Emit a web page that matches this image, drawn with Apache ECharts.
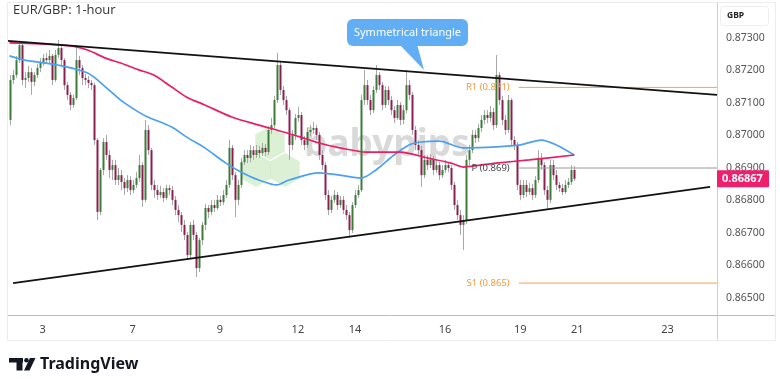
<!DOCTYPE html>
<html>
<head>
<meta charset="utf-8">
<script src="https://cdn.jsdelivr.net/npm/echarts@6/dist/echarts.min.js"></script>
<style>
html,body{margin:0;padding:0;background:#fff;}
#chart{width:780px;height:388px;}
</style>
</head>
<body>
<div id="chart"></div>
<script>
// ---- Data ----
const title = 'EUR/GBP: 1-hour';
const dayLabels = ['3','7','9','12','14','16','19','21','23'];
const dayIndex = [11,41,70,96,115,145,170,189,219];
const slotCount = 236;
const yTicks = [0.865,0.866,0.867,0.868,0.869,0.870,0.871,0.872,0.873];
const yMin = 0.864477, yMax = 0.874077;

const firstOpen = 0.87048;
const closes = [
0.87171,0.87186,0.87232,0.87278,0.87171,0.87177,0.87195,0.87165,0.87186,0.87208,
0.87226,0.87238,0.87232,0.87245,0.87171,0.87248,0.87269,0.87232,0.87155,0.87125,
0.87094,0.87115,0.87232,0.87208,0.87177,0.87171,0.87162,0.87155,0.86986,0.86765,
0.86894,0.86980,0.86940,0.86894,0.86909,0.86863,0.86878,0.86857,0.86838,0.86863,
0.86832,0.86848,0.86869,0.86909,0.86802,0.87017,0.86955,0.86848,0.86832,0.86817,
0.86826,0.86808,0.86838,0.86832,0.86802,0.86771,0.86755,0.86725,0.86694,0.86632,
0.86725,0.86694,0.86592,0.86678,0.86725,0.86777,0.86765,0.86786,0.86777,0.86802,
0.86795,0.86817,0.86848,0.86962,0.86878,0.86802,0.86848,0.86918,0.86940,0.86931,
0.86955,0.86940,0.86955,0.86946,0.86962,0.86949,0.87017,0.87032,0.87109,0.87217,
0.87140,0.87109,0.87078,0.86971,0.87002,0.87054,0.87063,0.86986,0.86971,0.87011,
0.87017,0.87023,0.87002,0.86940,0.86909,0.86817,0.86771,0.86802,0.86817,0.86786,
0.86802,0.86771,0.86755,0.86709,0.86786,0.86817,0.86832,0.87109,0.87155,0.87109,
0.87078,0.87140,0.87186,0.87155,0.87094,0.87140,0.87109,0.87078,0.87054,0.87094,
0.87048,0.87078,0.87155,0.87125,0.87017,0.86971,0.86955,0.86878,0.86925,0.86909,
0.86925,0.86894,0.86909,0.86878,0.86894,0.86909,0.86900,0.86848,0.86786,0.86755,
0.86725,0.86740,0.86925,0.86955,0.87002,0.86992,0.87023,0.87048,0.87063,0.87054,
0.87072,0.87032,0.87186,0.87109,0.87048,0.87017,0.87109,0.86986,0.86971,0.86848,
0.86817,0.86848,0.86826,0.86838,0.86817,0.86863,0.86931,0.86909,0.86832,0.86802,
0.86909,0.86878,0.86848,0.86838,0.86826,0.86848,0.86857,0.86894,0.86867];
const highs = [
0.87186,0.87202,0.87245,0.87291,0.87285,0.87195,0.87214,0.87208,0.87195,0.87220,
0.87238,0.87251,0.87254,0.87263,0.87251,0.87263,0.87294,0.87278,0.87238,0.87165,
0.87134,0.87125,0.87278,0.87245,0.87217,0.87189,0.87183,0.87171,0.87162,0.86992,
0.86900,0.86992,0.87002,0.86955,0.86925,0.86925,0.86900,0.86894,0.86869,0.86878,
0.86875,0.86863,0.86888,0.86940,0.86918,0.87048,0.87032,0.86962,0.86863,0.86848,
0.86845,0.86838,0.86848,0.86848,0.86845,0.86814,0.86786,0.86765,0.86740,0.86703,
0.86734,0.86740,0.86703,0.86685,0.86734,0.86789,0.86786,0.86802,0.86802,0.86817,
0.86814,0.86832,0.86863,0.86986,0.86971,0.86888,0.86863,0.86931,0.86955,0.86955,
0.86971,0.86968,0.86971,0.86968,0.86977,0.86974,0.87029,0.87054,0.87122,0.87254,
0.87226,0.87152,0.87122,0.87085,0.87017,0.87066,0.87088,0.87072,0.86998,0.87023,
0.87032,0.87042,0.87032,0.87011,0.86955,0.86918,0.86832,0.86814,0.86832,0.86826,
0.86814,0.86814,0.86786,0.86765,0.86795,0.86832,0.86848,0.87125,0.87202,0.87171,
0.87125,0.87152,0.87217,0.87195,0.87165,0.87152,0.87152,0.87122,0.87091,0.87109,
0.87103,0.87094,0.87202,0.87171,0.87134,0.87029,0.86986,0.86968,0.86940,0.86940,
0.86943,0.86937,0.86925,0.86918,0.86909,0.86925,0.86918,0.86909,0.86857,0.86802,
0.86771,0.86755,0.86940,0.86971,0.87017,0.87017,0.87035,0.87063,0.87078,0.87078,
0.87091,0.87085,0.87248,0.87195,0.87122,0.87063,0.87125,0.87115,0.86998,0.86980,
0.86863,0.86863,0.86863,0.86854,0.86851,0.86875,0.86955,0.86946,0.86918,0.86845,
0.86925,0.86925,0.86894,0.86857,0.86851,0.86863,0.86869,0.86909,0.86906];
const lows = [
0.87032,0.87158,0.87177,0.87223,0.87155,0.87146,0.87165,0.87125,0.87152,0.87177,
0.87195,0.87214,0.87220,0.87223,0.87155,0.87165,0.87238,0.87214,0.87140,0.87109,
0.87078,0.87085,0.87109,0.87186,0.87155,0.87155,0.87146,0.87140,0.86971,0.86740,
0.86755,0.86878,0.86925,0.86869,0.86863,0.86848,0.86848,0.86832,0.86817,0.86826,
0.86817,0.86823,0.86838,0.86857,0.86780,0.86795,0.86940,0.86832,0.86808,0.86802,
0.86808,0.86795,0.86802,0.86817,0.86786,0.86755,0.86734,0.86703,0.86678,0.86617,
0.86623,0.86678,0.86565,0.86580,0.86663,0.86709,0.86746,0.86755,0.86765,0.86771,
0.86783,0.86786,0.86808,0.86838,0.86863,0.86749,0.86786,0.86838,0.86909,0.86915,
0.86918,0.86925,0.86931,0.86931,0.86937,0.86937,0.86940,0.87005,0.87023,0.87100,
0.87125,0.87094,0.87063,0.86925,0.86955,0.86986,0.87042,0.86971,0.86955,0.86962,
0.86998,0.87005,0.86986,0.86925,0.86894,0.86802,0.86755,0.86762,0.86792,0.86771,
0.86777,0.86758,0.86740,0.86685,0.86700,0.86777,0.86808,0.86826,0.87094,0.87094,
0.87063,0.87069,0.87131,0.87140,0.87078,0.87085,0.87094,0.87063,0.87038,0.87048,
0.87032,0.87035,0.87069,0.87109,0.87002,0.86955,0.86940,0.86842,0.86869,0.86894,
0.86900,0.86878,0.86885,0.86863,0.86869,0.86885,0.86888,0.86832,0.86771,0.86740,
0.86694,0.86648,0.86728,0.86909,0.86946,0.86977,0.86980,0.87011,0.87035,0.87038,
0.87042,0.87017,0.87023,0.87094,0.87032,0.87002,0.87008,0.86971,0.86955,0.86832,
0.86802,0.86808,0.86811,0.86817,0.86802,0.86808,0.86854,0.86894,0.86817,0.86771,
0.86792,0.86863,0.86832,0.86826,0.86817,0.86820,0.86838,0.86848,0.86860];

// moving averages: [candle index, value]
const maBlue = [[0,0.87245],[5,0.87232],[16,0.87217],[26,0.87192],[32,0.87149],[37,0.87109],[43,0.87072],[46,0.87057],[54,0.87026],[59,0.86995],[65,0.86962],[72,0.86915],[77,0.86888],[83,0.86863],[89,0.86848],[93,0.86863],[103,0.86885],[110,0.86878],[117,0.86869],[122,0.86894],[128,0.86940],[133,0.86971],[137,0.86980],[143,0.86983],[151,0.86962],[162,0.86965],[170,0.86971],[177,0.86986],[182,0.86971],[188,0.86940]];
const maPink = [[0,0.87285],[10,0.87282],[21,0.87275],[26,0.87263],[32,0.87238],[37,0.87223],[43,0.87202],[48,0.87186],[54,0.87149],[59,0.87118],[65,0.87094],[74,0.87057],[83,0.87032],[90,0.87014],[97,0.86995],[103,0.86977],[110,0.86962],[119,0.86949],[130,0.86949],[139,0.86931],[147,0.86915],[151,0.86903],[154,0.86906],[162,0.86915],[173,0.86925],[188,0.86940]];

const upperTrend = [[-0.5,0.87291],[235.5,0.87125]];
const lowerTrend = [[1.2,0.86546],[233.2,0.86842]];

const pivotNames = ['R1 (0.871)','P (0.869)','S1 (0.865)'];
const pivotValues = [0.87148,0.86900,0.86546];
const pivotFrom = 169.5, pivotTo = 235.5;

const noteText = 'Symmetrical triangle';
const quoteCurrency = 'GBP';

// ---- Build ----
const categories = Array.from({length: slotCount}, () => '');
dayIndex.forEach((idx, k) => { categories[idx] = dayLabels[k]; });
const candleData = closes.map((c, i) => [i, i === 0 ? firstOpen : closes[i-1], c, lows[i], highs[i]]);
const lastClose = closes[closes.length - 1];

function renderCandle(params, api) {
  const i = api.value(0);
  const o = api.value(1), c = api.value(2), l = api.value(3), h = api.value(4);
  const top = api.coord([i, Math.max(o, c)]);
  const bot = api.coord([i, Math.min(o, c)]);
  const hi = api.coord([i, h]);
  const lo = api.coord([i, l]);
  const cx = top[0];
  return {
    type: 'group',
    children: [
      {type: 'line', shape: {x1: Math.round(cx) + 0.5, y1: hi[1], x2: Math.round(cx) + 0.5, y2: lo[1]},
       style: {stroke: '#a8a8a8', lineWidth: 1}},
      {type: 'rect', shape: {x: Math.round(cx) - 0.5, y: top[1], width: 2, height: Math.max(1, bot[1] - top[1])},
       style: {fill: c >= o ? '#3b7c38' : '#8d1e50'}}
    ]
  };
}

const pivotColors = ['#f5a24c', '#9a9a9a', '#f5a24c'];
const pivotLabelColors = ['#f39a3a', '#444', '#f39a3a'];
const pivotSeries = pivotValues.map((v, k) => ({
  type: 'line', xAxisIndex: 1, yAxisIndex: 0, silent: true, symbol: 'none', z: 4,
  lineStyle: {color: pivotColors[k], width: 1},
  data: [[pivotFrom, v], [pivotTo, v]]
}));

const chart = echarts.init(document.getElementById('chart'), null, {renderer: 'canvas'});
const option = {
  animation: false,
  backgroundColor: '#fff',
  grid: {left: 8, right: 63, top: 3, bottom: 73},
  xAxis: [
    {type: 'category', data: categories, boundaryGap: true,
     axisLine: {show: false}, axisTick: {show: false}, splitLine: {show: false},
     axisLabel: {interval: (idx, val) => val !== '', color: '#444', fontSize: 11, margin: 9, fontFamily: 'Noto Sans'}},
    {type: 'value', min: -0.5, max: slotCount - 0.5, show: false}
  ],
  yAxis: {
    type: 'value', position: 'right', min: yMin, max: yMax,
    axisLine: {show: false}, axisTick: {show: false}, splitLine: {show: false},
    axisLabel: {customValues: yTicks, formatter: v => v.toFixed(5), color: '#555', fontSize: 10.5, margin: 9, fontFamily: 'Noto Sans'}
  },
  series: [
    {type: 'custom', xAxisIndex: 0, yAxisIndex: 0, renderItem: renderCandle, data: candleData,
     encode: {x: 0, y: [1, 2, 3, 4]}, z: 3, silent: true},
    {type: 'line', xAxisIndex: 1, data: maBlue, smooth: 0.3, symbol: 'none', z: 5,
     lineStyle: {color: '#4ba0f2', width: 1.7}},
    {type: 'line', xAxisIndex: 1, data: maPink, smooth: 0.3, symbol: 'none', z: 5,
     lineStyle: {color: '#ea1d66', width: 1.7}},
    {type: 'line', xAxisIndex: 1, data: upperTrend, symbol: 'none', z: 6,
     lineStyle: {color: '#111', width: 1.8}},
    {type: 'line', xAxisIndex: 1, data: lowerTrend, symbol: 'none', z: 6,
     lineStyle: {color: '#111', width: 1.8}},
    ...pivotSeries
  ]
};
chart.setOption(option);

const py = chart.convertToPixel({yAxisIndex: 0}, lastClose);
const pivotLabels = pivotValues.map((v, k) => {
  const p = chart.convertToPixel({xAxisIndex: 1, yAxisIndex: 0}, [pivotFrom, v]);
  return {type: 'text', z: 12, x: p[0] - 9, y: p[1],
    style: {text: pivotNames[k], font: '9.5px "Noto Sans"', fill: pivotLabelColors[k], align: 'right', verticalAlign: 'middle'}};
});

function hexPoints(cx, cy, r) {
  const pts = [];
  for (let k = 0; k < 6; k++) {
    const a = Math.PI / 6 + k * Math.PI / 3;
    pts.push([cx + r * Math.cos(a), cy + r * Math.sin(a)]);
  }
  return pts;
}

chart.setOption({
  graphic: [
    // watermark
    {type: 'polygon', z: 0, silent: true, shape: {points: hexPoints(270, 143, 17)}, style: {fill: 'rgba(140,205,120,0.3)'}},
    {type: 'polygon', z: 0, silent: true, shape: {points: hexPoints(256, 170, 17)}, style: {fill: 'rgba(140,205,120,0.3)'}},
    {type: 'polygon', z: 0, silent: true, shape: {points: hexPoints(285, 170, 17)}, style: {fill: 'rgba(140,205,120,0.3)'}},
    {type: 'text', z: 0, silent: true, left: 304, top: 127,
     style: {text: 'babypips', font: 'bold 37px "Noto Sans"', fill: 'rgba(140,140,140,0.33)'}},
    // frame
    {type: 'rect', z: 1, silent: true, shape: {x: 7.5, y: 2.5, width: 768, height: 338},
     style: {fill: 'none', stroke: '#ececec', lineWidth: 1}},
    {type: 'line', z: 1, silent: true, shape: {x1: 717.5, y1: 3, x2: 717.5, y2: 340},
     style: {stroke: '#cfcfcf', lineWidth: 1}},
    {type: 'line', z: 1, silent: true, shape: {x1: 8, y1: 315.5, x2: 775, y2: 315.5},
     style: {stroke: '#bdbdbd', lineWidth: 1}},
    // title
    {type: 'text', z: 10, left: 13, top: 4,
     style: {text: title, font: '13px "Open Sans"', fill: '#333'}},
    // currency box
    {type: 'rect', z: 10, shape: {x: 720.5, y: 6.5, width: 48, height: 19, r: 3},
     style: {fill: '#fff', stroke: '#eeeeee', lineWidth: 1}},
    {type: 'text', z: 11, left: 727, top: 11,
     style: {text: quoteCurrency, font: 'bold 8.5px "Noto Sans"', fill: '#222'}},
    // callout
    {type: 'polygon', z: 20, shape: {points: [[399, 44], [417, 44], [424, 70]]},
     style: {fill: '#62aef4'}},
    {type: 'rect', z: 20, shape: {x: 347, y: 19, width: 121, height: 27, r: 6},
     style: {fill: '#62aef4'}},
    {type: 'text', z: 21, x: 407.5, y: 32.5,
     style: {text: noteText, font: '11px "Noto Sans"', fill: '#fff', align: 'center', verticalAlign: 'middle'}},
    // last price box
    {type: 'rect', z: 20, shape: {x: 717, y: py - 8.5, width: 52, height: 17, r: 1},
     style: {fill: '#ee1f6d'}},
    {type: 'text', z: 21, x: 722, y: py,
     style: {text: lastClose.toFixed(5), font: 'bold 11px "Noto Sans"', fill: '#fff', verticalAlign: 'middle'}},
    // TradingView logo
    {type: 'rect', z: 10, shape: {x: 9, y: 358, width: 14, height: 4.5}, style: {fill: '#131722'}},
    {type: 'rect', z: 10, shape: {x: 16.5, y: 358, width: 6, height: 12.5}, style: {fill: '#131722'}},
    {type: 'circle', z: 10, shape: {cx: 26.5, cy: 360.3, r: 2.3}, style: {fill: '#131722'}},
    {type: 'polygon', z: 10, shape: {points: [[30, 358], [35.5, 358], [29.5, 370.5], [24, 370.5]]}, style: {fill: '#131722'}},
    {type: 'text', z: 10, x: 40, y: 364.5,
     style: {text: 'TradingView', font: 'bold 16px "Noto Sans"', fill: '#131722', verticalAlign: 'middle'}},
    ...pivotLabels
  ]
});
</script>
</body>
</html>
